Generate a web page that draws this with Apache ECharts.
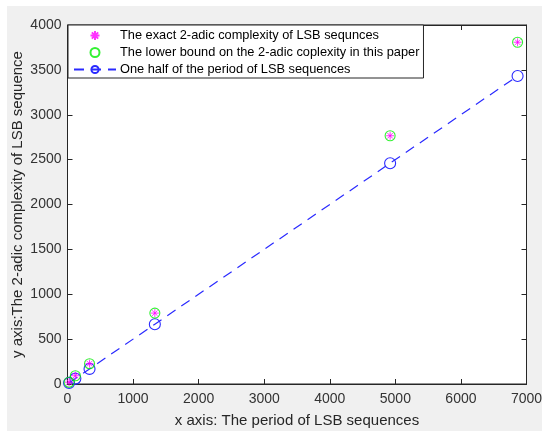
<!DOCTYPE html>
<html><head><meta charset="utf-8">
<script src="https://cdn.jsdelivr.net/npm/echarts@6/dist/echarts.min.js"></script>
<style>html,body{margin:0;padding:0;background:#fff}#c{width:542px;height:431px}</style>
</head><body><div id="c"></div>
<script>
const periods = [24, 120, 336, 1332, 4920, 6864];
const exactComplexity = [20, 92, 226, 790, 2766, 3808];
const lowerBound = [20, 92, 226, 790, 2766, 3808];
const halfPeriod = [12, 60, 168, 666, 2460, 3432];
const xTicks = [0, 7000, 1000];
const yTicks = [0, 4000, 500];
const names = ['The exact 2-adic complexity of LSB sequnces','The lower bound on the 2-adic coplexity in this paper','One half of the period of LSB sequences'];

const pair = (xs, ys) => xs.map((x, i) => [x, ys[i]]);
const font = '"Liberation Sans", Arial, sans-serif';
const tc = '#262626';
const chart = echarts.init(document.getElementById('c'), null, {renderer:'canvas'});
const star = 'path://M0,-10L0,10M-10,0L10,0M-7,-7L7,7M-7,7L7,-7';
const axisCommon = {
  type:'value', splitLine:{show:false},
  axisLine:{show:true, onZero:false, lineStyle:{color:tc, width:1}},
  axisTick:{show:true, inside:true, length:5, lineStyle:{color:tc}},
};
const clear = 'rgba(0,0,0,0)';
chart.setOption({
  backgroundColor:'#fff',
  animation:false,
  graphic:[{type:'rect', shape:{x:7,y:6,width:535,height:425}, style:{fill:'#f0f0f0'}, z:-10}],
  grid:{left:67.5, right:15.5, top:25, bottom:47, outerBoundsMode:'none', containLabel:false, show:true, backgroundColor:'#fff', borderColor:tc, borderWidth:1},
  legend:{
    orient:'vertical', left:68, top:25, data:names,
    backgroundColor:'#fff', borderColor:tc, borderWidth:1, borderRadius:0,
    padding:[4,4,2,5], itemGap:4, itemWidth:42, itemHeight:9,
    textStyle:{fontFamily:font, fontSize:12.8, color:'#000', padding:[0,0,0,-1]}
  },
  xAxis:[
    Object.assign({}, axisCommon, {min:xTicks[0], max:xTicks[1], interval:xTicks[2], position:'bottom',
      name:'x axis: The period of LSB sequences', nameLocation:'middle', nameGap:29, nameMoveOverlap:false,
      nameTextStyle:{fontFamily:font, fontSize:15, color:tc},
      axisLabel:{fontFamily:font, fontSize:14, color:'#333', margin:8, formatter:v => String(v)}}),
    Object.assign({}, axisCommon, {min:xTicks[0], max:xTicks[1], interval:xTicks[2], position:'top', axisLabel:{show:false}})
  ],
  yAxis:[
    Object.assign({}, axisCommon, {min:yTicks[0], max:yTicks[1], interval:yTicks[2], position:'left',
      name:'y axis:The 2-adic complexity of LSB sequence', nameLocation:'middle', nameGap:42, nameMoveOverlap:false,
      nameTextStyle:{fontFamily:font, fontSize:15, color:tc},
      axisLabel:{fontFamily:font, fontSize:14, color:'#333', margin:6, formatter:v => String(v)}}),
    Object.assign({}, axisCommon, {min:yTicks[0], max:yTicks[1], interval:yTicks[2], position:'right', axisLabel:{show:false}})
  ],
  series:[
    {name:names[0], type:'scatter', data:pair(periods, exactComplexity), symbol:star, symbolSize:8, z:5,
      itemStyle:{color:clear, borderColor:'#ff00ff', borderWidth:1}},
    {name:names[1], type:'scatter', data:pair(periods, lowerBound), symbol:'circle', symbolSize:10, z:4,
      itemStyle:{color:clear, borderColor:'#00ee00', borderWidth:1.1}},
    {name:names[2], type:'line', data:pair(periods, halfPeriod), symbol:'circle', symbolSize:11, showSymbol:true,
      lineStyle:{color:'#2a2aff', width:1.2, type:[10,7]},
      itemStyle:{color:clear, borderColor:'#2a2aff', borderWidth:1.1}}
  ]
});
</script></body></html>
